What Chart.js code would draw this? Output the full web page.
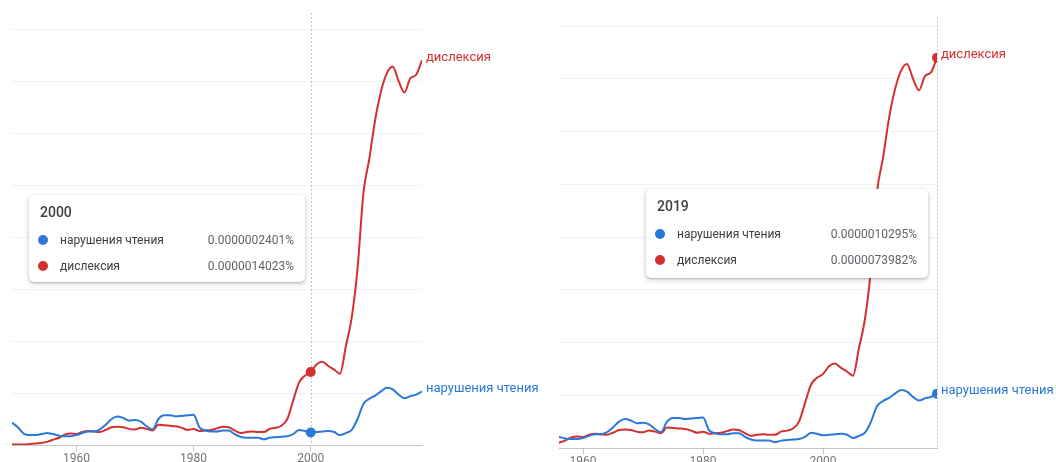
<!DOCTYPE html>
<html>
<head>
<meta charset="utf-8">
<script src="https://cdn.jsdelivr.net/npm/chart.js@4"></script>
<style>
  body { margin: 0; background: #fff; font-family: Roboto, "Noto Sans", sans-serif; }
  .panel { position: absolute; top: 0; height: 462px; overflow: hidden; }
  .box { position: relative; }
  .tip { position: absolute; background: #fff; border-radius: 5px;
         box-shadow: 0 1px 2px rgba(60,64,67,.3), 0 2px 5px 1px rgba(60,64,67,.15); }
  .tip .title { position: absolute; left: 11px; top: 8px; line-height: 18px; font-size: 14px; font-weight: 500; color: #3c4043; }
  .tip .row { position: absolute; left: 0; right: 0; height: 18px; line-height: 18px; font-size: 12px; }
  .tip .dot { position: absolute; left: 9px; top: 4px; width: 10px; height: 10px; border-radius: 50%; }
  .tip .name { position: absolute; left: 31px; color: #3c4043; }
  .tip .val { position: absolute; right: 11px; color: #5f6368; }
</style>
</head>
<body>
<div class="panel" style="left:0;width:550px">
  <div class="box" style="width:550px;height:467px"><canvas id="chartLeft"></canvas></div>
  <div class="tip" id="tipLeft" style="left:29px;top:195px;width:276px;height:87px"></div>
</div>
<div class="panel" style="left:550px;width:506px">
  <div class="box" style="width:506px;height:470px"><canvas id="chartRight"></canvas></div>
  <div class="tip" id="tipRight" style="left:96px;top:189px;width:282px;height:89px"></div>
</div>
<script>
// values in units of 1e-6 %
const firstYear = 1949;
const lastYear = 2019;
const tickYears = [1960, 1980, 2000];
const gridValues = [0, 1, 2, 3, 4, 5, 6, 7, 8];
const seriesNames = ['нарушения чтения', 'дислексия'];

const readingDisorders = [
  0.43, 0.34, 0.22, 0.19, 0.19, 0.21, 0.23, 0.21, 0.18, 0.17,   // 1949-1958
  0.17, 0.19, 0.23, 0.26, 0.26, 0.30, 0.39, 0.50, 0.55, 0.52,   // 1959-1968
  0.47, 0.48, 0.45, 0.36, 0.30, 0.50, 0.57, 0.57, 0.55, 0.56,   // 1969-1978
  0.57, 0.58, 0.34, 0.28, 0.26, 0.26, 0.28, 0.28, 0.21, 0.16,   // 1979-1988
  0.14, 0.14, 0.14, 0.11, 0.14, 0.15, 0.16, 0.17, 0.21, 0.29,   // 1989-1998
  0.27, 0.2401, 0.25, 0.26, 0.27, 0.25, 0.19, 0.23, 0.29, 0.50, // 1999-2008
  0.79, 0.89, 0.95, 1.03, 1.10, 1.07, 0.97, 0.90, 0.94, 0.97,   // 2009-2018
  1.0295                                                        // 2019
];
const dyslexia = [
  0.01, 0.01, 0.01, 0.02, 0.03, 0.04, 0.06, 0.10, 0.14, 0.20,   // 1949-1958
  0.22, 0.21, 0.25, 0.27, 0.26, 0.25, 0.29, 0.34, 0.35, 0.34,   // 1959-1968
  0.31, 0.30, 0.33, 0.31, 0.28, 0.39, 0.38, 0.37, 0.36, 0.33,   // 1969-1978
  0.29, 0.31, 0.27, 0.28, 0.29, 0.32, 0.35, 0.34, 0.28, 0.23,   // 1979-1988
  0.25, 0.26, 0.25, 0.25, 0.31, 0.33, 0.37, 0.50, 0.85, 1.20,   // 1989-1998
  1.33, 1.4023, 1.55, 1.60, 1.52, 1.45, 1.37, 1.90, 2.45, 3.40, // 1999-2008
  4.85, 5.50, 6.25, 6.80, 7.15, 7.28, 7.00, 6.78, 7.05, 7.12,   // 2009-2018
  7.3982                                                        // 2019
];

const blue = '#2a78d8';
const red = '#d3302f';

function toPoints(arr) {
  return arr.map((v, i) => ({ x: firstYear + i, y: v }));
}

function fmt(v) {
  return (v * 1e-6).toFixed(10) + '%';
}

const hoverLine = {
  id: 'hoverLine',
  beforeDatasetsDraw(chart, args, opts) {
    const x = chart.scales.x.getPixelForValue(opts.year);
    const ctx = chart.ctx;
    ctx.save();
    ctx.strokeStyle = '#c4c4c4';
    ctx.lineWidth = 1;
    ctx.setLineDash([2, 2]);
    ctx.beginPath();
    ctx.moveTo(Math.round(x) + 0.5, chart.chartArea.top - opts.above);
    ctx.lineTo(Math.round(x) + 0.5, chart.chartArea.bottom);
    ctx.stroke();
    ctx.restore();
  }
};

const endLabels = {
  id: 'endLabels',
  afterDatasetsDraw(chart) {
    const ctx = chart.ctx;
    ctx.save();
    ctx.font = '13px Roboto';
    ctx.textBaseline = 'middle';
    chart.data.datasets.forEach((ds, i) => {
      const pts = chart.getDatasetMeta(i).data;
      const p = pts[pts.length - 1];
      ctx.fillStyle = ds.borderColor;
      ctx.fillText(ds.label, p.x + 4, p.y - 3);
    });
    ctx.restore();
  }
};

function buildChart(canvas, cfg) {
  return new Chart(canvas, {
    type: 'line',
    data: {
      datasets: [
        { label: seriesNames[0], data: toPoints(readingDisorders), borderColor: blue, backgroundColor: blue },
        { label: seriesNames[1], data: toPoints(dyslexia), borderColor: red, backgroundColor: red }
      ]
    },
    options: {
      responsive: true,
      maintainAspectRatio: false,
      animation: false,
      events: [],
      layout: { padding: cfg.padding },
      elements: {
        line: { borderWidth: 2, cubicInterpolationMode: 'monotone' },
        point: {
          radius: ctx => (ctx.raw && ctx.raw.x === cfg.hoverYear ? 5 : 0),
          borderWidth: 0
        }
      },
      scales: {
        x: {
          type: 'linear',
          min: cfg.minYear,
          max: lastYear,
          afterBuildTicks: axis => { axis.ticks = tickYears.map(v => ({ value: v })); },
          ticks: {
            color: '#757575',
            padding: 2,
            font: { family: 'Roboto', size: 12, lineHeight: 1 },
            callback: v => String(v)
          },
          grid: { drawOnChartArea: false, tickLength: 6, color: '#c6c6c6' },
          border: { color: '#c6c6c6' }
        },
        y: {
          min: 0,
          max: 8,
          afterBuildTicks: axis => { axis.ticks = gridValues.map(v => ({ value: v })); },
          ticks: { display: false },
          grid: { color: '#f1f1f1', drawTicks: false },
          border: { display: false }
        }
      },
      plugins: {
        legend: { display: false },
        tooltip: { enabled: false },
        hoverLine: { year: cfg.hoverYear, above: cfg.lineAbove }
      }
    },
    plugins: [hoverLine, endLabels]
  });
}

function fillTip(el, year) {
  const i = year - firstYear;
  const rows = [
    [blue, seriesNames[0], readingDisorders[i]],
    [red, seriesNames[1], dyslexia[i]]
  ];
  let html = '<div class="title">' + year + '</div>';
  rows.forEach((r, k) => {
    html += '<div class="row" style="top:' + (36 + k * 26) + 'px">' +
      '<span class="dot" style="background:' + r[0] + '"></span>' +
      '<span class="name">' + r[1] + '</span>' +
      '<span class="val">' + fmt(r[2]) + '</span></div>';
  });
  el.innerHTML = html;
}

buildChart(document.getElementById('chartLeft'), {
  minYear: 1949, hoverYear: 2000, lineAbove: 16,
  padding: { left: 12, right: 128, top: 29, bottom: 0 }
});
buildChart(document.getElementById('chartRight'), {
  minYear: 1956, hoverYear: 2019, lineAbove: 9,
  padding: { left: 9, right: 119, top: 26, bottom: 0 }
});
fillTip(document.getElementById('tipLeft'), 2000);
fillTip(document.getElementById('tipRight'), 2019);
</script>
</body>
</html>
